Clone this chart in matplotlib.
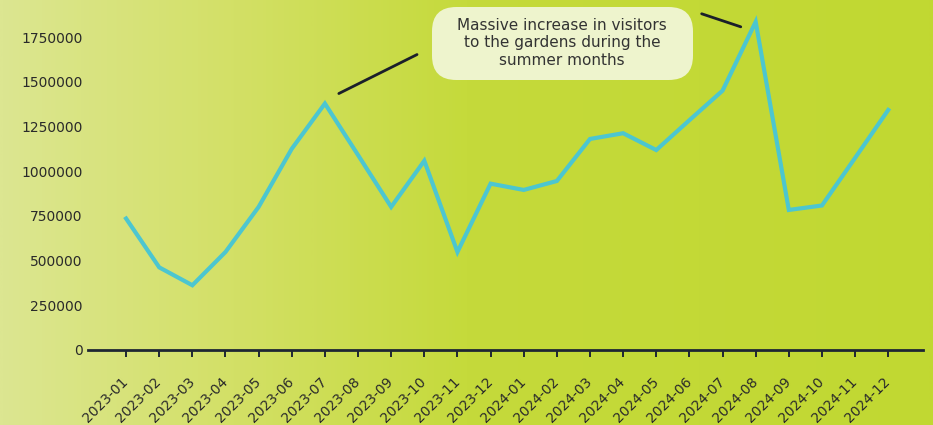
import matplotlib.pyplot as plt
import numpy as np
from matplotlib.colors import LinearSegmentedColormap
from matplotlib.patches import FancyBboxPatch

months = ["2023-01", "2023-02", "2023-03", "2023-04", "2023-05", "2023-06",
          "2023-07", "2023-08", "2023-09", "2023-10", "2023-11", "2023-12",
          "2024-01", "2024-02", "2024-03", "2024-04", "2024-05", "2024-06",
          "2024-07", "2024-08", "2024-09", "2024-10", "2024-11", "2024-12"]
visitors = [735000, 462000, 362000, 548000, 800000, 1125000,
            1378000, 1090000, 800000, 1058000, 548000, 930000,
            895000, 945000, 1180000, 1212000, 1118000, 1285000,
            1450000, 1835000, 783000, 808000, 1074000, 1342000]
ytick_vals = [0, 250000, 500000, 750000, 1000000, 1250000, 1500000, 1750000]
note = "Massive increase in visitors\nto the gardens during the\nsummer months"

W, H = 933, 425
fig = plt.figure(figsize=(W / 100, H / 100), dpi=100)

# background gradient
bg = fig.add_axes([0, 0, 1, 1], zorder=-10)
cmap = LinearSegmentedColormap.from_list(
    "bg", [(0, "#dce691"), (0.25, "#d3e066"), (0.5, "#c5da3b"), (1, "#c1d832")])
grad = np.linspace(0, 1, 400).reshape(1, -1)
bg.imshow(grad, cmap=cmap, aspect="auto", extent=[0, 1, 0, 1])
bg.set_axis_off()

ax = fig.add_axes([0.0943, 0.1765, 0.8950, 0.8235])
ax.patch.set_alpha(0)
x = np.arange(len(months))
ax.plot(x, visitors, color="#4cc6d0", lw=3.0, solid_joinstyle="miter", zorder=3)

ax.set_xlim(-1.15, 24.05)
ax.set_ylim(0, 1957000)
ax.set_yticks(ytick_vals)
ax.set_yticklabels([str(v) for v in ytick_vals], fontsize=10, color="#2a2a2a")
ax.set_xticks(x)
ax.set_xticklabels(months, rotation=45, ha="right", va="center",
                   rotation_mode="anchor", fontsize=10, color="#2a2a2a")
ax.tick_params(axis="y", length=0, pad=4)
ax.tick_params(axis="x", length=5, width=1.4, color="#1e2633", pad=16)
for s in ["top", "right", "left"]:
    ax.spines[s].set_visible(False)
ax.spines["bottom"].set_color("#1e2633")
ax.spines["bottom"].set_linewidth(2)

# note box
box = FancyBboxPatch((432 / W, 1 - 80 / H), 261 / W, 73 / H,
                     boxstyle="round,pad=0,rounding_size=0.026",
                     transform=fig.transFigure, fc="#eef4cd", ec="none",
                     mutation_aspect=W / H)
fig.patches.append(box)
fig.text(562 / W, 1 - 43 / H, note, ha="center", va="center",
         fontsize=11, color="#333333", linespacing=1.2)

# connector lines from the note toward the two peaks
i1 = visitors.index(max(visitors[:12]))
i2 = visitors.index(max(visitors))
ax.annotate("", xy=(i1 + 0.42, visitors[i1] + 56000),
            xytext=(i1 + 2.78, visitors[i1] + 274000),
            arrowprops=dict(arrowstyle="-", lw=2, color="#1b1f2a",
                            shrinkA=0, shrinkB=0), annotation_clip=False)
ax.annotate("", xy=(i2 - 0.45, visitors[i2] - 28000),
            xytext=(i2 - 1.63, visitors[i2] + 45000),
            arrowprops=dict(arrowstyle="-", lw=2, color="#1b1f2a",
                            shrinkA=0, shrinkB=0), annotation_clip=False)

fig.savefig("out.png", dpi=100)
